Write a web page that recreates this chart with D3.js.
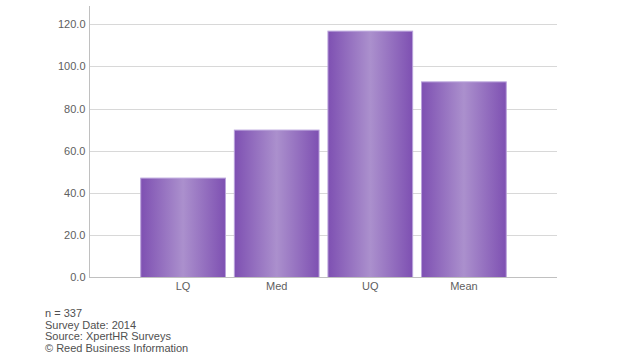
<!DOCTYPE html>
<html><head><meta charset="utf-8">
<script src="https://cdn.jsdelivr.net/npm/d3@7/dist/d3.min.js"></script>
<style>body{margin:0;background:#fff}svg{display:block}text{font-family:"Liberation Sans",Arial,sans-serif}</style>
</head><body><div id="chart"></div>
<script>
const categories = ["LQ", "Med", "UQ", "Mean"];
const values = [47.2, 70.0, 117.0, 92.9];
const yTicks = [0, 20, 40, 60, 80, 100, 120];
const footerLines = ["n = 337", "Survey Date: 2014", "Source: XpertHR Surveys", "\u00A9 Reed Business Information"];

(function () {
const W = 635, H = 357;
const svg = d3.select("#chart").append("svg").attr("width", W).attr("height", H);

const pLeft = 89, pRight = 557, pTop = 6, pBottom = 277;
const y = d3.scaleLinear().domain([0, 128.7]).range([pBottom, pTop]);
const x = d3.scalePoint().domain(categories).range([pLeft, pRight]).padding(1);
const barW = x.step() * 0.905;

const defs = svg.append("defs");
const grad = defs.append("linearGradient").attr("id", "barGrad").attr("x1", "0%").attr("x2", "100%").attr("y1", "0%").attr("y2", "0%");
grad.append("stop").attr("offset", "0%").attr("stop-color", "#7e50b2");
grad.append("stop").attr("offset", "50%").attr("stop-color", "#ab90cd");
grad.append("stop").attr("offset", "100%").attr("stop-color", "#7e50b2");

// gridlines
svg.append("g").selectAll("line").data(yTicks.filter(d => d > 0)).join("line")
  .attr("x1", pLeft).attr("x2", pRight)
  .attr("y1", d => Math.round(y(d)) + 0.5).attr("y2", d => Math.round(y(d)) + 0.5)
  .attr("stroke", "#d8d8d8").attr("stroke-width", 1);

// y axis
const yAxis = svg.append("g").attr("transform", `translate(${pLeft + 0.5},0)`)
  .call(d3.axisLeft(y).tickValues(yTicks).tickFormat(d3.format(".1f")).tickSize(0).tickPadding(4));
yAxis.select(".domain").remove();
yAxis.selectAll("text").attr("font-size", 11).attr("fill", "#606060");
svg.append("line").attr("x1", pLeft + 0.5).attr("x2", pLeft + 0.5).attr("y1", pTop).attr("y2", pBottom)
  .attr("stroke", "#c0c0c0");

// bars
svg.append("g").selectAll("rect").data(categories).join("rect")
  .attr("x", d => x(d) - barW / 2 + 0.5)
  .attr("y", (d, i) => y(values[i]) + 0.5)
  .attr("width", barW)
  .attr("height", (d, i) => y(0) - y(values[i]))
  .attr("fill", "url(#barGrad)")
  .attr("stroke", "#b9a2db").attr("stroke-width", 1);

// x axis
const xAxis = svg.append("g").attr("transform", `translate(0,${pBottom + 0.5})`)
  .call(d3.axisBottom(x).tickSize(0).tickPadding(5));
xAxis.select(".domain").remove();
xAxis.selectAll("text").attr("font-size", 11).attr("fill", "#606060");
svg.append("line").attr("x1", pLeft).attr("x2", pRight).attr("y1", pBottom + 0.5).attr("y2", pBottom + 0.5)
  .attr("stroke", "#c0c0c0");

// footer
svg.append("g").selectAll("text").data(footerLines).join("text")
  .attr("x", 45).attr("y", (d, i) => 317 + i * 11.5)
  .attr("font-size", 11).attr("fill", "#505050").text(d => d);
})();
</script></body></html>
